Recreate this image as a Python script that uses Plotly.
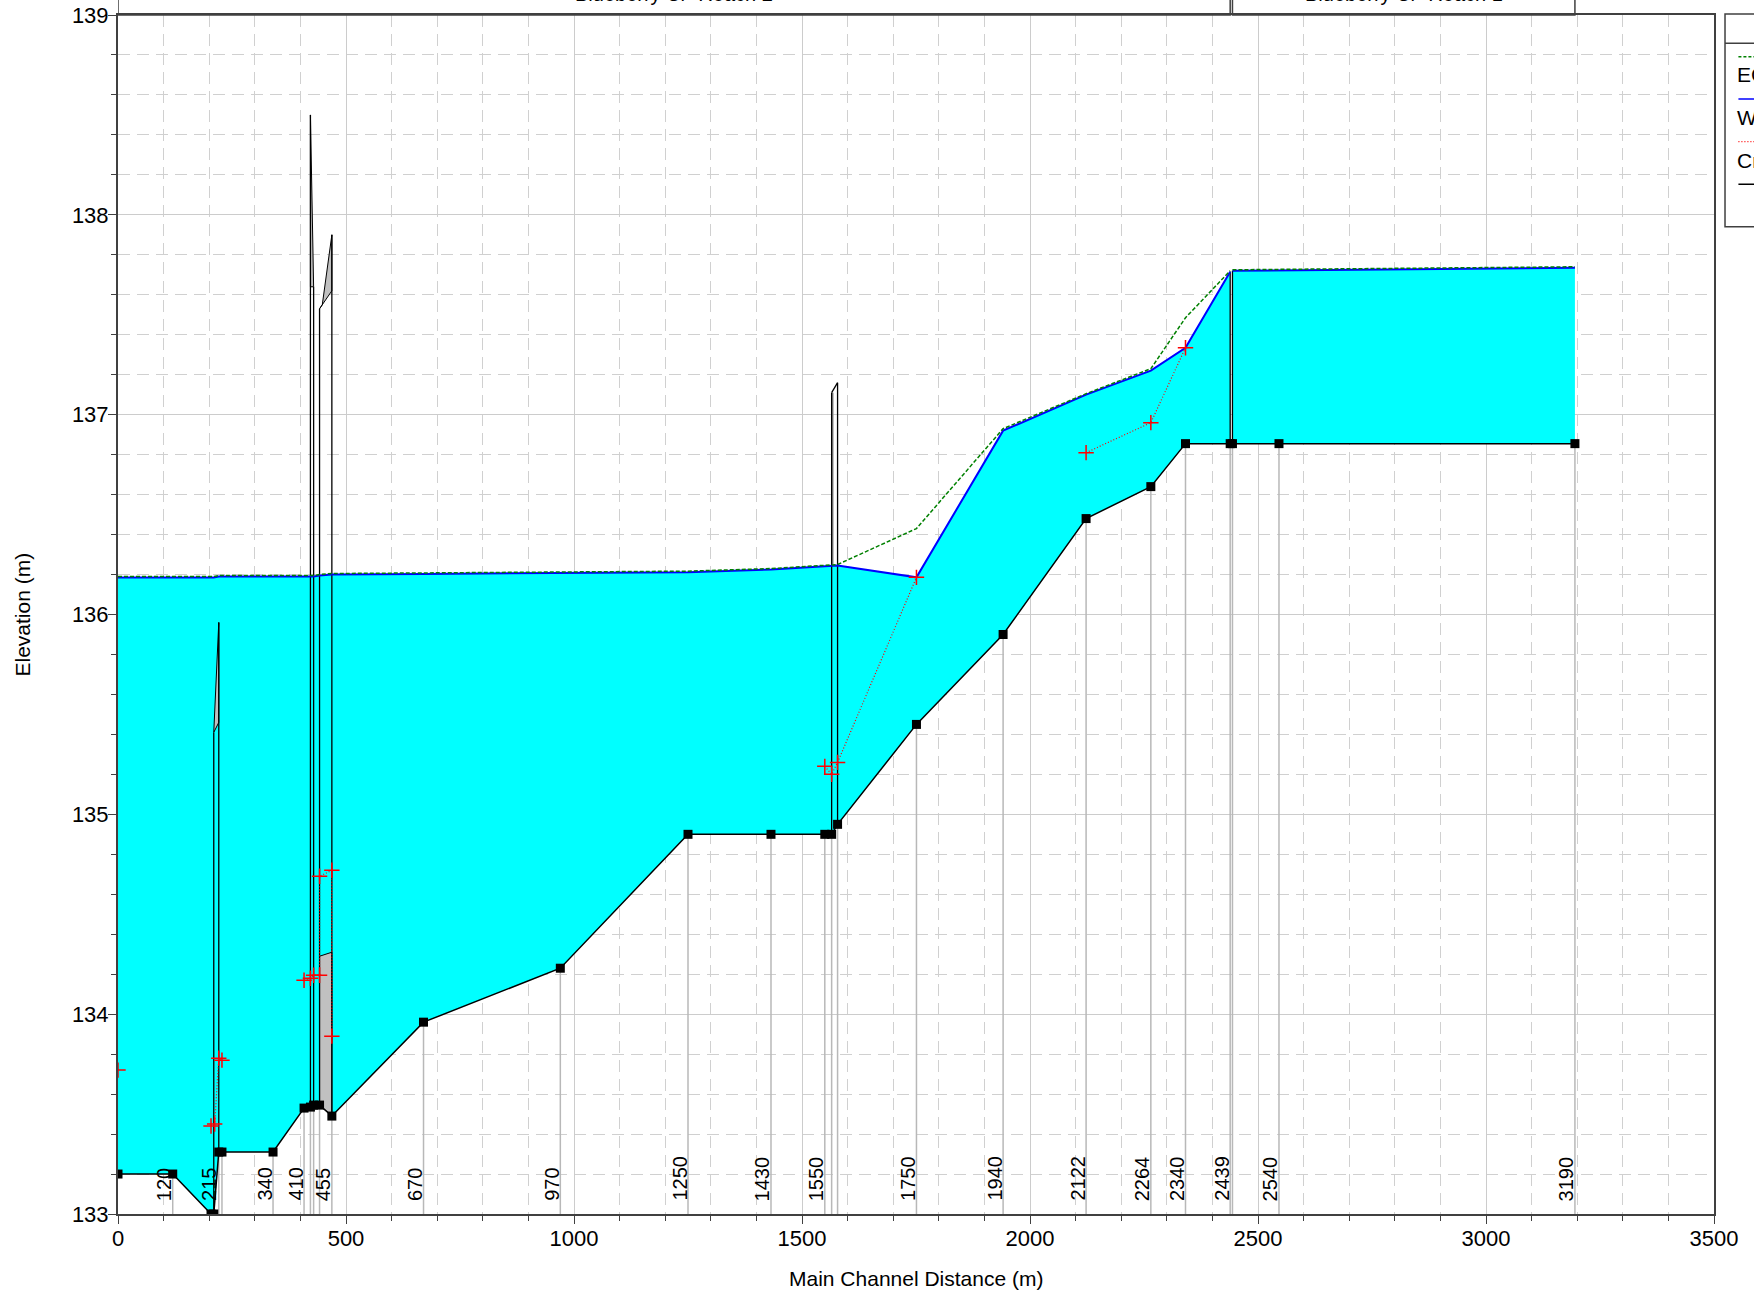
import plotly.graph_objects as go

# ---------------- data ----------------
# Reach 2 (downstream) cross sections: main channel distance (m)
r2_x = [0, 120, 204, 210, 221, 228, 340, 408, 422, 429, 442, 469, 670, 970,
        1250, 1432, 1550, 1565, 1578, 1751, 1941, 2123, 2265, 2341, 2439]
r2_ground = [133.20, 133.20, 133.00, 133.00, 133.31, 133.31, 133.31, 133.53, 133.535,
             133.545, 133.545, 133.49, 133.96, 134.23, 134.90, 134.90, 134.90, 134.90,
             134.95, 135.45, 135.90, 136.48, 136.64, 136.855, 136.855]
r2_ws = [136.185, 136.185, 136.185, 136.185, 136.19, 136.19, 136.19, 136.19, 136.19,
         136.19, 136.195, 136.20, 136.203, 136.207, 136.212, 136.225, 136.24, 136.245,
         136.245, 136.186, 136.92, 137.10, 137.22, 137.335, 137.715]
r2_eg = [136.19, 136.19, 136.19, 136.19, 136.195, 136.195, 136.195, 136.195, 136.195,
         136.195, 136.20, 136.205, 136.208, 136.212, 136.217, 136.23, 136.245, 136.25,
         136.25, 136.43, 136.93, 137.105, 137.23, 137.485, 137.72]

# Reach 1 (upstream)
r1_x = [2444, 2546, 3195]
r1_ground = [136.855, 136.855, 136.855]
r1_ws = [137.72, 137.722, 137.735]
r1_eg = [137.725, 137.727, 137.74]

# Critical water surface (None = not shown)
crit_x = [0, None, 204, 212, 221, 228, None, 408, 422, 429, 442, 442, 469, 469, None,
          1550, 1565, 1578, 1751, None, 2123, 2265, 2341]
crit_y = [133.72, None, 133.44, 133.45, 133.78, 133.77, None, 134.17, 134.18, 134.195,
          134.195, 134.69, 134.72, 133.89, None, 135.24, 135.20, 135.26, 136.186, None,
          136.81, 136.96, 137.335]

# Structure faces (culverts / bridges / junction): x, bottom, top
face_x = [210, 221, 422, 429, 442, 469, 1565, 1578, 2439, 2444]
face_bot = [133.00, 133.31, 133.535, 133.545, 133.545, 133.49, 134.90, 134.95, 136.855, 136.855]
face_top = [135.41, 135.96, 138.50, 137.64, 137.53, 137.90, 137.11, 137.16, 137.715, 137.72]

# Grey deck / blocked areas
deck_culvert_x = [210, 221, 221, 210]
deck_culvert_y = [135.41, 135.46, 135.96, 135.41]
deck_a_x = [422, 429, 422, 422]
deck_a_y = [138.50, 137.64, 137.64, 138.50]
deck_b_x = [442, 469, 469, 448, 442]
deck_b_y = [137.53, 137.62, 137.90, 137.55, 137.53]
block_b_x = [442, 442, 469, 469, 442]
block_b_y = [133.545, 134.29, 134.31, 133.49, 133.545]
deck_c_x = [1565, 1578]
deck_c_y = [137.11, 137.16]
deck_c_edge_x = [1567, 1567]
deck_c_edge_y = [136.25, 137.11]

# Station labels at the bottom
stn_labels = ["120", "215", "340", "410", "455", "670", "970", "1250", "1430", "1550",
              "1750", "1940", "2122", "2264", "2340", "2439", "2540", "3190"]
stn_x = [120, 218, 340, 408, 469, 670, 970, 1250, 1432, 1550, 1751, 1941, 2123, 2265,
         2341, 2439, 2546, 3195]

reach_names = ["Blueberry Cr  Reach 2", "Blueberry Cr  Reach 1"]
reach_start = [0, 2444]
reach_end = [2439, 3195]

legend_labels = ["EG  PF 1", "WS  PF 1", "Crit  PF 1", "Ground"]

FONT = "Liberation Sans, Arial, sans-serif"
CYAN = "#00ffff"
GREY = "#c0c0c0"

fig = go.Figure()

# grey vertical station lines from ground down to bottom
all_x = r2_x + r1_x
all_g = r2_ground + r1_ground
sl_x, sl_y = [], []
for xx, gg in zip(all_x, all_g):
    if xx > 0 and gg > 133.0:
        sl_x += [xx, xx, None]
        sl_y += [gg, 133.0, None]
fig.add_trace(go.Scatter(x=sl_x, y=sl_y, mode="lines",
                         line=dict(color="#b8b8b8", width=1.5), hoverinfo="skip"))

# cyan water fill per reach
for gx, gy, wy in [(r2_x, r2_ground, r2_ws), (r1_x, r1_ground, r1_ws)]:
    fig.add_trace(go.Scatter(x=gx + gx[::-1], y=gy + wy[::-1], mode="lines",
                             fill="toself", fillcolor=CYAN, line=dict(width=0),
                             hoverinfo="skip"))

# grey decks / blocks
for px, py in [(deck_culvert_x, deck_culvert_y), (deck_a_x, deck_a_y),
               (deck_b_x, deck_b_y), (block_b_x, block_b_y)]:
    fig.add_trace(go.Scatter(x=px, y=py, mode="lines", fill="toself", fillcolor=GREY,
                             line=dict(color="black", width=1), hoverinfo="skip"))

fig.add_trace(go.Scatter(x=deck_c_edge_x, y=deck_c_edge_y, mode="lines",
                         line=dict(color="#909090", width=2), hoverinfo="skip"))

# structure faces
fx, fy = [], []
for xx, b, t in zip(face_x, face_bot, face_top):
    fx += [xx, xx, None]
    fy += [b, t, None]
fig.add_trace(go.Scatter(x=fx, y=fy, mode="lines", line=dict(color="black", width=1.3),
                         hoverinfo="skip"))
fig.add_trace(go.Scatter(x=deck_c_x, y=deck_c_y, mode="lines",
                         line=dict(color="black", width=1.3), hoverinfo="skip"))

# water surface
for gx, wy in [(r2_x, r2_ws), (r1_x, r1_ws)]:
    fig.add_trace(go.Scatter(x=gx, y=wy, mode="lines",
                             line=dict(color="#0000ff", width=2), hoverinfo="skip"))
# energy grade
for gx, ey in [(r2_x, r2_eg), (r1_x, r1_eg)]:
    fig.add_trace(go.Scatter(x=gx, y=ey, mode="lines",
                             line=dict(color="#008000", width=1.5, dash="4px,2px"),
                             hoverinfo="skip"))
# critical
fig.add_trace(go.Scatter(x=crit_x, y=crit_y, mode="lines+markers",
                         line=dict(color="#ff0000", width=1.2, dash="1px,2px"),
                         marker=dict(symbol="cross-thin", size=11,
                                     line=dict(color="#ff0000", width=1.5)),
                         hoverinfo="skip"))
# ground
fig.add_trace(go.Scatter(x=all_x, y=all_g, mode="lines+markers",
                         line=dict(color="black", width=1.5),
                         marker=dict(symbol="square", size=9, color="black"),
                         hoverinfo="skip"))

annotations = []
for lab, xx in zip(stn_labels, stn_x):
    annotations.append(dict(x=xx, y=133.0, xref="x", yref="y", text=lab, textangle=-90,
                            showarrow=False, xanchor="right", yanchor="bottom",
                            xshift=4, yshift=11, font=dict(family=FONT, size=20, color="black")))

shapes = []
for name, a, b in zip(reach_names, reach_start, reach_end):
    shapes.append(dict(type="rect", xref="x", yref="paper", x0=a, x1=b, y0=1.0, y1=1.08,
                       line=dict(color="#404040", width=1.5), fillcolor="rgba(0,0,0,0)"))
    annotations.append(dict(x=(a + b) / 2, y=1.0, xref="x", yref="paper", text=name,
                            showarrow=False, xanchor="center", yanchor="bottom", yshift=8,
                            font=dict(family=FONT, size=20, color="black")))

# axis titles
annotations.append(dict(x=0.5, y=0, xref="paper", yref="paper", text="Main Channel Distance (m)",
                        showarrow=False, xanchor="center", yanchor="middle", yshift=-64,
                        font=dict(family=FONT, size=21, color="black")))
annotations.append(dict(x=0, y=0.5, xref="paper", yref="paper", text="Elevation (m)",
                        textangle=-90, showarrow=False, xanchor="center", yanchor="middle",
                        xshift=-96, font=dict(family=FONT, size=21, color="black")))

# custom legend (cropped at right edge)
shapes.append(dict(type="rect", xref="paper", yref="paper", x0=1.0069, x1=1.2,
                   y0=0.8234, y1=1.0008, line=dict(color="#404040", width=1.5)))
shapes.append(dict(type="line", xref="paper", yref="paper", x0=1.0069, x1=1.2,
                   y0=0.9764, y1=0.9764, line=dict(color="#404040", width=1.5)))
leg_styles = [dict(color="#008000", width=1.5, dash="3px,2px"),
              dict(color="#0000ff", width=1.5),
              dict(color="#ff0000", width=1.2, dash="1px,2px"),
              dict(color="black", width=1.5)]
leg_line_y = [0.9652, 0.9300, 0.8944, 0.8589]
leg_text_y = [0.9500, 0.9145, 0.8790, 0.8430]
for i, (lab, st) in enumerate(zip(legend_labels, leg_styles)):
    shapes.append(dict(type="line", xref="paper", yref="paper", x0=1.0153, x1=1.2,
                       y0=leg_line_y[i], y1=leg_line_y[i], line=st))
    if i < 3:
        annotations.append(dict(x=1.0130, y=leg_text_y[i], xref="paper", yref="paper",
                                text=lab, showarrow=False, xanchor="left", yanchor="middle",
                                font=dict(family=FONT, size=21, color="black")))

fig.update_layout(
    width=1754, height=1295,
    margin=dict(l=118, r=40, t=15, b=81),
    paper_bgcolor="white", plot_bgcolor="white",
    showlegend=False,
    font=dict(family=FONT, size=20, color="black"),
    shapes=shapes, annotations=annotations,
    xaxis=dict(range=[0, 3500], dtick=500, tick0=0, showline=True, mirror=True,
               automargin=False, ticklabeloverflow="allow",
               linecolor="#404040", linewidth=2, ticks="outside", ticklen=8,
               tickcolor="#404040", tickwidth=1.2, showgrid=True, gridcolor="#cccccc",
               gridwidth=1, zeroline=False, ticklabelstandoff=-4,
               tickfont=dict(family=FONT, size=22, color="black"),
               minor=dict(dtick=100, ticks="outside", ticklen=5, tickcolor="#404040",
                          showgrid=True, gridcolor="#d0d0d0", griddash="12px,7px",
                          gridwidth=1)),
    yaxis=dict(range=[133, 139], dtick=1, tick0=133, showline=True, mirror=True,
               automargin=False, ticklabeloverflow="allow",
               linecolor="#404040", linewidth=2, ticks="outside", ticklen=8,
               tickcolor="#404040", tickwidth=1.2, showgrid=True, gridcolor="#cccccc",
               gridwidth=1, zeroline=False, ticklabelstandoff=-5,
               tickfont=dict(family=FONT, size=22, color="black"),
               minor=dict(dtick=0.2, ticks="outside", ticklen=5, tickcolor="#404040",
                          showgrid=True, gridcolor="#d0d0d0", griddash="12px,7px",
                          gridwidth=1)),
)

fig.write_html("out.html", config={"displayModeBar": False},
               post_script="document.body.style.margin='0';")
